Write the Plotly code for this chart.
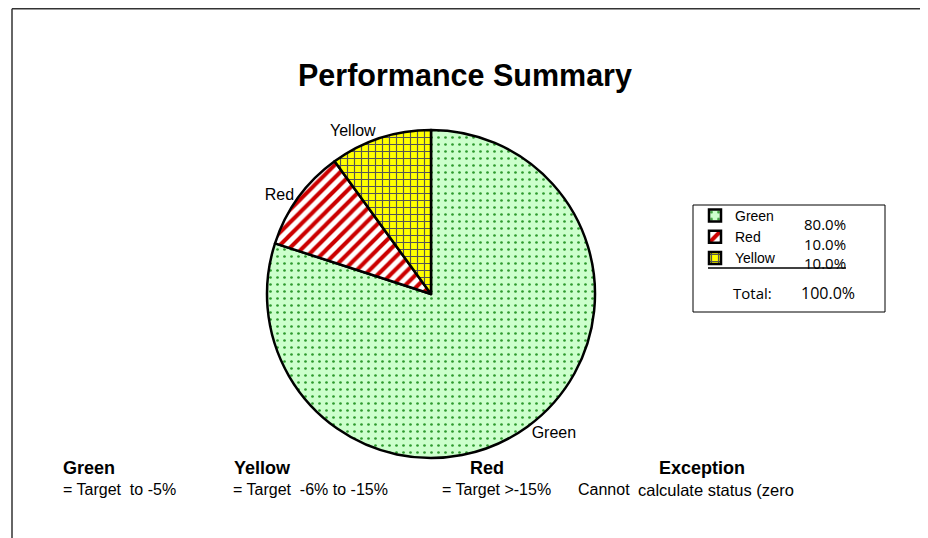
import plotly.graph_objects as go

# ---- data ----
categories = ["Green", "Red", "Yellow"]
values = [80, 10, 10]
title_text = "Performance Summary"
key_titles = ["Green", "Yellow", "Red", "Exception"]
key_texts = ["= Target  to -5%", "= Target  -6% to -15%", "= Target >-15%", "Cannot", "calculate status (zero"]

W, H = 928, 538
OFF = 8  # page body margin of the html page
FONT = "Liberation Sans, Arial, sans-serif"
FONT2 = "Open Sans, sans-serif"

def px(x):
    return (x - OFF) / W

def py(y):
    return 1 - (y - OFF) / H

total = sum(values)
pcts = [v / total * 100 for v in values]

R = 164
CX, CY = 431, 294

fig = go.Figure()
fig.add_trace(go.Pie(
    labels=categories,
    values=values,
    sort=False,
    direction="clockwise",
    rotation=0,
    textinfo="label",
    textposition="outside",
    textfont=dict(family=FONT, size=16, color="#000000"),
    marker=dict(
        colors=["#CCFFCC", "#FFFFFF", "#FFFF00"],
        line=dict(color="#000000", width=2.5),
        pattern=dict(
            shape=[".", "/", "+"],
            bgcolor=["#CCFFCC", "#FFFFFF", "#FFFF00"],
            fgcolor=["#2E9A2E", "#CC0000", "#555555"],
            size=[7, 9, 7],
            solidity=[0.12, 0.45, 0.3],
            fillmode="replace",
        ),
    ),
    domain=dict(x=[px(CX - R), px(CX + R)], y=[py(CY + R), py(CY - R)]),
    hoverinfo="label+percent",
    showlegend=True,
))

annotations = [
    dict(text="<b>" + title_text + "</b>", x=px(465), y=py(76), xref="paper", yref="paper",
         showarrow=False, font=dict(family=FONT, size=30.5, color="#000000"), xanchor="center", yanchor="middle"),
]

# legend percentages (one block, one line per category)
annotations.append(dict(text="<br>".join(f"{p:.1f}%" for p in pcts), x=px(848), y=py(243.5),
                        xref="paper", yref="paper", showarrow=False, xanchor="right", yanchor="middle",
                        align="right", font=dict(family=FONT2, size=15, color="#000000")))
annotations.append(dict(text="Total:", x=px(731), y=py(293), xref="paper", yref="paper",
                        showarrow=False, xanchor="left", yanchor="middle",
                        font=dict(family=FONT2, size=15, color="#000000")))
annotations.append(dict(text=f"{sum(pcts):.1f}%", x=px(857), y=py(293), xref="paper", yref="paper",
                        showarrow=False, xanchor="right", yanchor="middle",
                        font=dict(family=FONT2, size=16, color="#000000")))

# key below the pie
title_x = [61, 232, 468, 657]
text_x = [61, 231, 440, 576, 636]
for t, tx in zip(key_titles, title_x):
    annotations.append(dict(text="<b>" + t + "</b>", x=px(tx), y=py(480), xref="paper", yref="paper",
                            showarrow=False, xanchor="left", yanchor="bottom",
                            font=dict(family=FONT, size=18, color="#000000")))
for i, (t, tx) in enumerate(zip(key_texts, text_x)):
    annotations.append(dict(text=t.replace("  ", "&nbsp; "), x=px(tx), y=py(479), xref="paper", yref="paper",
                            showarrow=False, xanchor="left", yanchor="top",
                            font=dict(family=FONT, size=16.5 if i == 4 else 16, color="#000000")))

shapes = [
    # outer frame (top and left)
    dict(type="line", xref="paper", yref="paper", x0=px(12), y0=0, x1=px(12), y1=py(8.8),
         line=dict(color="#333333", width=1.5)),
    dict(type="line", xref="paper", yref="paper", x0=px(12), y0=py(8.8), x1=1, y1=py(8.8),
         line=dict(color="#333333", width=1.5)),
    # legend box
    dict(type="rect", xref="paper", yref="paper", x0=px(693), y0=py(312), x1=px(885), y1=py(205),
         line=dict(color="#000000", width=1)),
    # underline before total
    dict(type="line", xref="paper", yref="paper", x0=px(708), y0=py(268), x1=px(846), y1=py(268),
         line=dict(color="#000000", width=1.5)),
]

fig.update_layout(
    width=W, height=H,
    margin=dict(l=0, r=0, t=0, b=0),
    paper_bgcolor="#FFFFFF",
    plot_bgcolor="#FFFFFF",
    annotations=annotations,
    shapes=shapes,
    legend=dict(
        x=px(695), y=py(200), xanchor="left", yanchor="top",
        font=dict(family=FONT, size=14, color="#000000"),
        bgcolor="rgba(0,0,0,0)", borderwidth=0,
        tracegroupgap=0, itemwidth=30,
    ),
)

fig.write_html("out.html")
